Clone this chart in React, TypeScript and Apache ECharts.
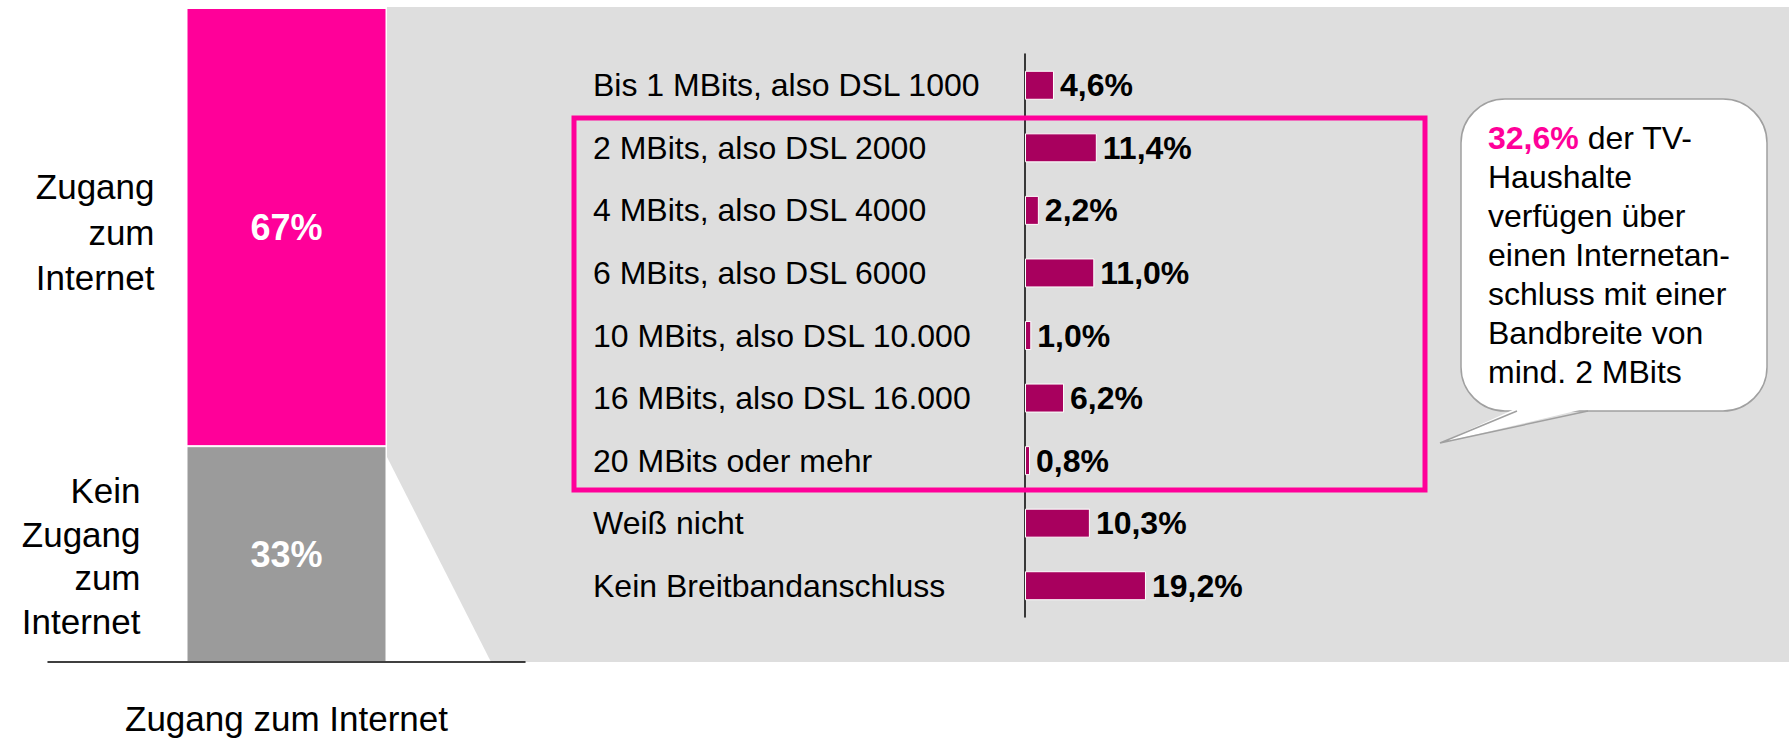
import React, { useEffect, useRef } from "react";
import * as echarts from "echarts";

const FONT = "'Liberation Sans', Arial, sans-serif";

const accessCategory = ["Zugang zum Internet"];
const accessNames = ["Kein Zugang zum Internet", "Zugang zum Internet"];
const accessSideLabels = ["Kein\nZugang\nzum\nInternet", "Zugang\nzum\nInternet"];
const accessValues = [33, 67];

const speedCategories = [
  "Bis 1 MBits, also DSL 1000",
  "2 MBits, also DSL 2000",
  "4 MBits, also DSL 4000",
  "6 MBits, also DSL 6000",
  "10 MBits, also DSL 10.000",
  "16 MBits, also DSL 16.000",
  "20 MBits oder mehr",
  "Weiß nicht",
  "Kein Breitbandanschluss",
];
const speedValues = [4.6, 11.4, 2.2, 11.0, 1.0, 6.2, 0.8, 10.3, 19.2];

const calloutValue = "32,6%";
const calloutLines = [
  " der TV-",
  "Haushalte",
  "verfügen über",
  "einen Internetan-",
  "schluss mit einer",
  "Bandbreite von",
  "mind. 2 MBits",
];

const fmt = (v: number) => v.toFixed(1).replace(".", ",") + "%";

export default function App() {
  const ref = useRef<HTMLDivElement>(null);
  useEffect(() => {
    if (!ref.current) return;
    const chart = echarts.init(ref.current, null, { renderer: "svg" });
    const option: any = {
      animation: false,
      backgroundColor: "#ffffff",
      textStyle: { fontFamily: FONT },
      graphic: [
        {
          type: "polygon",
          z: -10,
          silent: true,
          shape: {
            points: [
              [387, 7],
              [1789, 7],
              [1789, 662],
              [491, 662],
              [387, 457],
            ],
          },
          style: { fill: "#DEDEDE" },
        },
        {
          type: "rect",
          z: 50,
          silent: true,
          shape: { x: 574, y: 118, width: 851, height: 372 },
          style: { fill: "none", stroke: "#FF0099", lineWidth: 5 },
        },
        {
          type: "rect",
          z: 50,
          silent: true,
          shape: { x: 1461, y: 99, width: 306, height: 312, r: 44 },
          style: { fill: "#ffffff", stroke: "#A0A0A0", lineWidth: 1.5 },
        },
        {
          type: "polygon",
          z: 51,
          silent: true,
          shape: {
            points: [
              [1517, 408],
              [1440, 443],
              [1588, 408],
            ],
          },
          style: { fill: "#ffffff" },
        },
        {
          type: "polyline",
          z: 52,
          silent: true,
          shape: {
            points: [
              [1517, 411],
              [1440, 443],
              [1588, 411],
            ],
          },
          style: { fill: "none", stroke: "#A0A0A0", lineWidth: 1.5 },
        },
        {
          type: "text",
          z: 53,
          silent: true,
          x: 1488,
          y: 118,
          style: {
            text:
              "{p|" + calloutValue + "}{t|" + calloutLines[0] + "}\n" +
              calloutLines.slice(1).map((l) => "{t|" + l + "}").join("\n"),
            fontFamily: FONT,
            fontSize: 32,
            lineHeight: 39,
            fill: "#000000",
            verticalAlign: "top",
            align: "left",
            rich: {
              p: {
                fill: "#FF0099",
                fontWeight: "bold",
                fontSize: 32,
                fontFamily: FONT,
                lineHeight: 39,
              },
              t: {
                fill: "#000000",
                fontSize: 32,
                fontFamily: FONT,
                lineHeight: 39,
              },
            },
          },
        },
      ],
      grid: [
        { left: 48, top: 8, width: 477, height: 654, containLabel: false },
        { left: 1025, top: 54, width: 630, height: 563, containLabel: false },
      ],
      xAxis: [
        {
          type: "category",
          gridIndex: 0,
          data: accessCategory,
          axisLine: { show: true, lineStyle: { color: "#000000", width: 1.5 } },
          axisTick: { show: false },
          axisLabel: {
            color: "#000000",
            fontSize: 35,
            fontFamily: FONT,
            margin: 39,
          },
          splitLine: { show: false },
          z: 10,
        },
        {
          type: "value",
          gridIndex: 1,
          min: 0,
          max: 100,
          show: false,
          splitLine: { show: false },
        },
      ],
      yAxis: [
        {
          type: "value",
          gridIndex: 0,
          min: 0,
          max: 100,
          show: false,
          splitLine: { show: false },
        },
        {
          type: "category",
          gridIndex: 1,
          inverse: true,
          data: speedCategories,
          axisLine: { show: true, lineStyle: { color: "#000000", width: 1.5 } },
          axisTick: { show: false },
          axisLabel: {
            color: "#000000",
            fontSize: 32,
            fontFamily: FONT,
            align: "left",
            margin: 432,
          },
          splitLine: { show: false },
        },
      ],
      series: [
        {
          type: "bar",
          name: accessNames[0],
          xAxisIndex: 0,
          yAxisIndex: 0,
          stack: "access",
          barWidth: 200,
          data: [accessValues[0]],
          itemStyle: { color: "#9B9B9B", borderColor: "#ffffff", borderWidth: 1 },
          label: {
            show: true,
            position: "inside",
            formatter: "{c}%",
            color: "#ffffff",
            fontWeight: "bold",
            fontSize: 36,
            fontFamily: FONT,
          },
          silent: true,
        },
        {
          type: "bar",
          name: accessNames[1],
          xAxisIndex: 0,
          yAxisIndex: 0,
          stack: "access",
          barWidth: 200,
          data: [accessValues[1]],
          itemStyle: { color: "#FF0099", borderColor: "#ffffff", borderWidth: 1 },
          label: {
            show: true,
            position: "inside",
            formatter: "{c}%",
            color: "#ffffff",
            fontWeight: "bold",
            fontSize: 36,
            fontFamily: FONT,
          },
          silent: true,
        },
        {
          type: "bar",
          name: accessNames[0] + " (Label)",
          xAxisIndex: 0,
          yAxisIndex: 0,
          stack: "labels",
          barWidth: 200,
          barGap: "-100%",
          data: [accessValues[0]],
          itemStyle: { color: "transparent" },
          label: {
            show: true,
            position: "left",
            distance: 46,
            formatter: () => accessSideLabels[0],
            color: "#000000",
            fontSize: 35,
            lineHeight: 43.7,
            fontFamily: FONT,
            align: "right",
            offset: [0, 2],
          },
          silent: true,
        },
        {
          type: "bar",
          name: accessNames[1] + " (Label)",
          xAxisIndex: 0,
          yAxisIndex: 0,
          stack: "labels",
          barWidth: 200,
          barGap: "-100%",
          data: [accessValues[1]],
          itemStyle: { color: "transparent" },
          label: {
            show: true,
            position: "left",
            distance: 32,
            formatter: () => accessSideLabels[1],
            color: "#000000",
            fontSize: 35,
            lineHeight: 45.5,
            fontFamily: FONT,
            align: "right",
            offset: [0, 5],
          },
          silent: true,
        },
        {
          type: "bar",
          name: "Bandbreite",
          xAxisIndex: 1,
          yAxisIndex: 1,
          barWidth: 29,
          data: speedValues,
          itemStyle: { color: "#A8005E", borderColor: "#ffffff", borderWidth: 1 },
          label: {
            show: true,
            position: "right",
            distance: 6,
            formatter: (p: any) => fmt(p.value),
            color: "#000000",
            fontWeight: "bold",
            fontSize: 32,
            fontFamily: FONT,
          },
          silent: true,
        },
      ],
    };
    chart.setOption(option);
    return () => chart.dispose();
  }, []);
  return (
    <div
      ref={ref}
      style={{ position: "fixed", left: 0, top: 0, width: 1789, height: 738 }}
    />
  );
}
